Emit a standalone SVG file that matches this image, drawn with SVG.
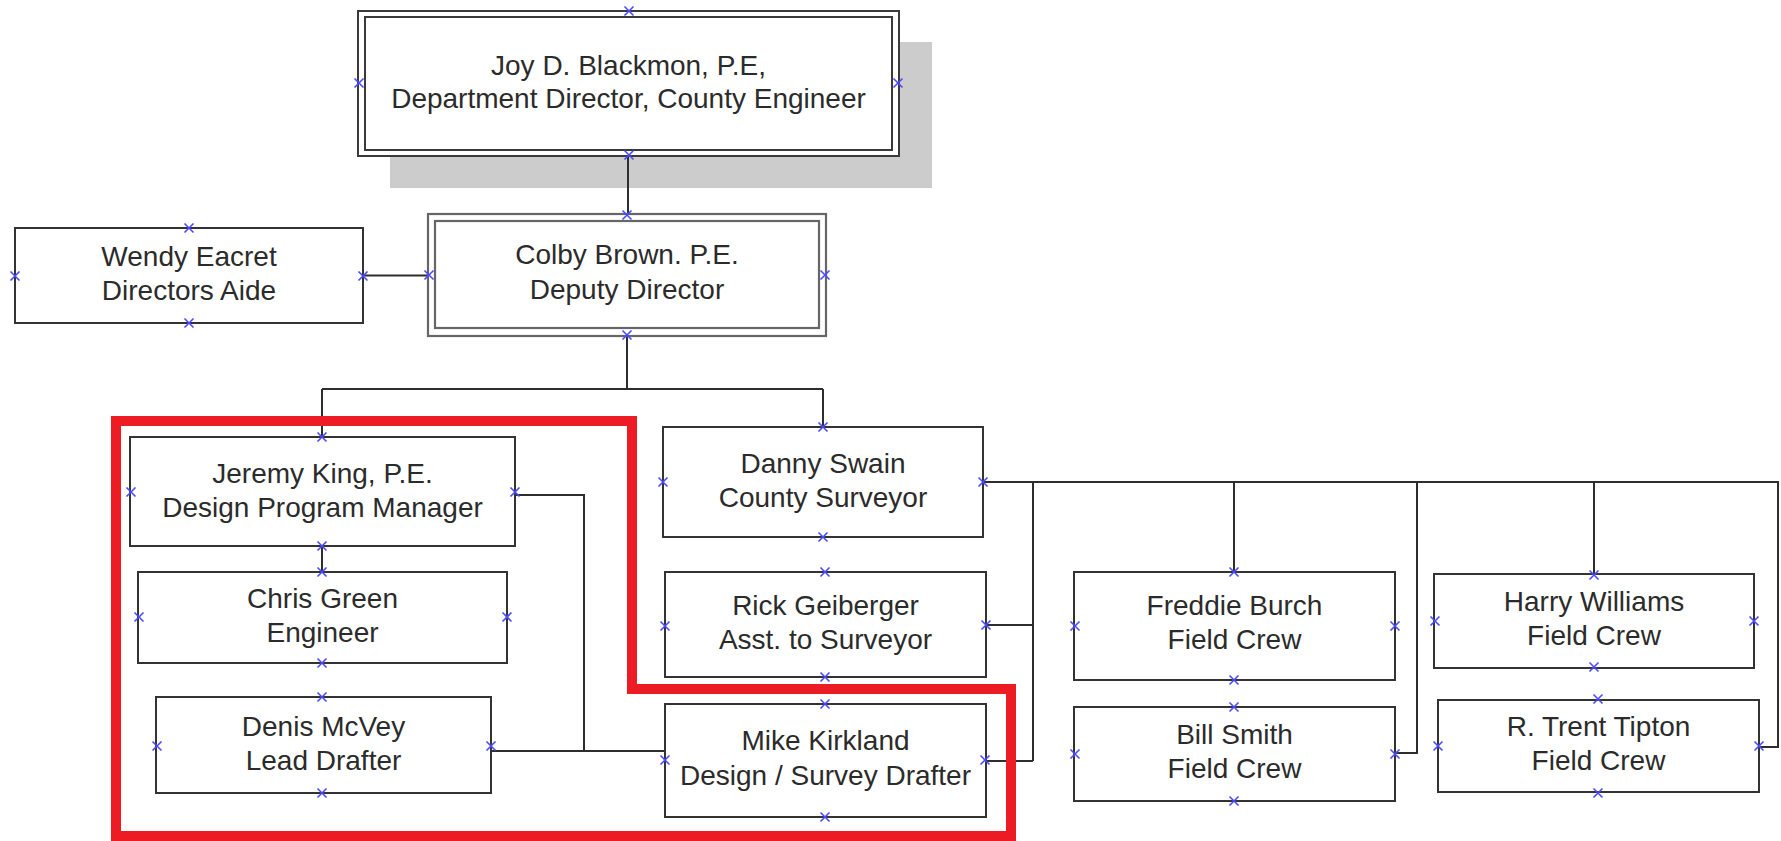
<svg xmlns="http://www.w3.org/2000/svg" xmlns:xlink="http://www.w3.org/1999/xlink" width="1781" height="841" viewBox="0 0 1781 841">
<style>
  .box { fill: #ffffff; stroke: #333333; stroke-width: 2; }
  .bg { fill: #ffffff; stroke: none; }
  .dbl { fill: none; stroke: #3a3a3a; stroke-width: 2; }
  .dblg { fill: none; stroke: #666666; stroke-width: 2.2; }
  .conn { fill: none; stroke: #2e2e2e; stroke-width: 2; }
  .lbl { font-family: "Liberation Sans", Arial, sans-serif; font-size: 28px; fill: #2b2b2b; text-anchor: middle; }
  .mk { stroke: #4a4aff; stroke-width: 1.6; fill: none; }
  .red { fill: none; stroke: #ed1c24; stroke-width: 10; stroke-linejoin: miter; }
</style>
<defs>
  <path id="x" class="mk" d="M-4.5,-4.5 L4.5,4.5 M-4.5,4.5 L4.5,-4.5"/>
</defs>
<rect width="1781" height="841" fill="#ffffff"/>

<!-- shadow of top box -->
<rect x="390" y="42" width="542" height="146" fill="#cccccc"/>

<g id="connectors">
  <path class="conn" d="M628,156 V214"/>
  <path class="conn" d="M363,275.5 H428"/>
  <path class="conn" d="M627,336 V389 M322,389 H823 M322,389 V437 M823,389 V427"/>
  <path class="conn" d="M322,546 V572"/>
  <path class="conn" d="M515,495 H584 V751 M491,751 H665"/>
  <path class="conn" d="M983,482 H1778 V747 H1759"/>
  <path class="conn" d="M1033,482 V761 M986,625 H1033 M986,761 H1033"/>
  <path class="conn" d="M1234,482 V572"/>
  <path class="conn" d="M1417,482 V753 H1395"/>
  <path class="conn" d="M1594,482 V575"/>
</g>

<g id="joy">
  <rect class="bg" x="358" y="11" width="541" height="145"/>
  <rect class="dbl" x="358" y="11" width="541" height="145"/>
  <rect class="dbl" x="365" y="17" width="527" height="133"/>
  <text class="lbl" x="628.5" y="75">Joy D. Blackmon, P.E,</text>
  <text class="lbl" x="628.5" y="108">Department Director, County Engineer</text>
</g>

<g id="colby">
  <rect class="bg" x="428" y="214" width="398" height="122"/>
  <rect class="dblg" x="428" y="214" width="398" height="122"/>
  <rect class="dblg" x="435" y="221" width="384" height="107"/>
  <text class="lbl" x="627" y="264">Colby Brown. P.E.</text>
  <text class="lbl" x="627" y="299">Deputy Director</text>
</g>

<g id="wendy">
  <rect class="box" x="15" y="228" width="348" height="95"/>
  <text class="lbl" x="189" y="266">Wendy Eacret</text>
  <text class="lbl" x="189" y="300">Directors Aide</text>
</g>

<g id="jeremy">
  <rect class="box" x="130" y="437" width="385" height="109"/>
  <text class="lbl" x="322.5" y="483">Jeremy King, P.E.</text>
  <text class="lbl" x="322.5" y="517">Design Program Manager</text>
</g>

<g id="chris">
  <rect class="box" x="138" y="572" width="369" height="91"/>
  <text class="lbl" x="322.5" y="608">Chris Green</text>
  <text class="lbl" x="322.5" y="642">Engineer</text>
</g>

<g id="denis">
  <rect class="box" x="156" y="697" width="335" height="96"/>
  <text class="lbl" x="323.5" y="736">Denis McVey</text>
  <text class="lbl" x="323.5" y="770">Lead Drafter</text>
</g>

<g id="danny">
  <rect class="box" x="663" y="427" width="320" height="110"/>
  <text class="lbl" x="823" y="473">Danny Swain</text>
  <text class="lbl" x="823" y="507">County Surveyor</text>
</g>

<g id="rick">
  <rect class="box" x="665" y="572" width="321" height="105"/>
  <text class="lbl" x="825.5" y="615">Rick Geiberger</text>
  <text class="lbl" x="825.5" y="649">Asst. to Surveyor</text>
</g>

<g id="mike">
  <rect class="box" x="665" y="704" width="321" height="113"/>
  <text class="lbl" x="825.5" y="750">Mike Kirkland</text>
  <text class="lbl" x="825.5" y="785">Design / Survey Drafter</text>
</g>

<g id="freddie">
  <rect class="box" x="1074" y="572" width="321" height="108"/>
  <text class="lbl" x="1234.5" y="615">Freddie Burch</text>
  <text class="lbl" x="1234.5" y="649">Field Crew</text>
</g>

<g id="bill">
  <rect class="box" x="1074" y="707" width="321" height="94"/>
  <text class="lbl" x="1234.5" y="744">Bill Smith</text>
  <text class="lbl" x="1234.5" y="778">Field Crew</text>
</g>

<g id="harry">
  <rect class="box" x="1434" y="574" width="320" height="94"/>
  <text class="lbl" x="1594" y="611">Harry Williams</text>
  <text class="lbl" x="1594" y="645">Field Crew</text>
</g>

<g id="trent">
  <rect class="box" x="1438" y="700" width="321" height="92"/>
  <text class="lbl" x="1598.5" y="736">R. Trent Tipton</text>
  <text class="lbl" x="1598.5" y="770">Field Crew</text>
</g>

<g id="highlight">
  <path class="red" d="M116,421 H632 V689 H1011 V836 H116 Z"/>
</g>

<g id="markers">
  <use xlink:href="#x" x="629" y="11"/>
  <use xlink:href="#x" x="359" y="83"/>
  <use xlink:href="#x" x="898" y="83"/>
  <use xlink:href="#x" x="629" y="155"/>

  <use xlink:href="#x" x="627" y="215"/>
  <use xlink:href="#x" x="429" y="275"/>
  <use xlink:href="#x" x="825" y="275"/>
  <use xlink:href="#x" x="627" y="335"/>

  <use xlink:href="#x" x="189" y="228"/>
  <use xlink:href="#x" x="15" y="276"/>
  <use xlink:href="#x" x="363" y="276"/>
  <use xlink:href="#x" x="189" y="323"/>

  <use xlink:href="#x" x="322" y="437"/>
  <use xlink:href="#x" x="131" y="492"/>
  <use xlink:href="#x" x="515" y="492"/>
  <use xlink:href="#x" x="322" y="546"/>

  <use xlink:href="#x" x="322" y="572"/>
  <use xlink:href="#x" x="139" y="617"/>
  <use xlink:href="#x" x="507" y="617"/>
  <use xlink:href="#x" x="322" y="663"/>

  <use xlink:href="#x" x="322" y="697"/>
  <use xlink:href="#x" x="157" y="746"/>
  <use xlink:href="#x" x="491" y="746"/>
  <use xlink:href="#x" x="322" y="793"/>

  <use xlink:href="#x" x="823" y="427"/>
  <use xlink:href="#x" x="663" y="482"/>
  <use xlink:href="#x" x="983" y="482"/>
  <use xlink:href="#x" x="823" y="537"/>

  <use xlink:href="#x" x="825" y="572"/>
  <use xlink:href="#x" x="665" y="626"/>
  <use xlink:href="#x" x="986" y="625"/>
  <use xlink:href="#x" x="825" y="677"/>

  <use xlink:href="#x" x="825" y="704"/>
  <use xlink:href="#x" x="665" y="760"/>
  <use xlink:href="#x" x="985" y="760"/>
  <use xlink:href="#x" x="825" y="817"/>

  <use xlink:href="#x" x="1234" y="572"/>
  <use xlink:href="#x" x="1075" y="626"/>
  <use xlink:href="#x" x="1395" y="626"/>
  <use xlink:href="#x" x="1234" y="680"/>

  <use xlink:href="#x" x="1234" y="707"/>
  <use xlink:href="#x" x="1075" y="754"/>
  <use xlink:href="#x" x="1395" y="754"/>
  <use xlink:href="#x" x="1234" y="801"/>

  <use xlink:href="#x" x="1594" y="575"/>
  <use xlink:href="#x" x="1435" y="621"/>
  <use xlink:href="#x" x="1754" y="621"/>
  <use xlink:href="#x" x="1594" y="667"/>

  <use xlink:href="#x" x="1598" y="699"/>
  <use xlink:href="#x" x="1438" y="746"/>
  <use xlink:href="#x" x="1759" y="746"/>
  <use xlink:href="#x" x="1598" y="793"/>
</g>
</svg>
